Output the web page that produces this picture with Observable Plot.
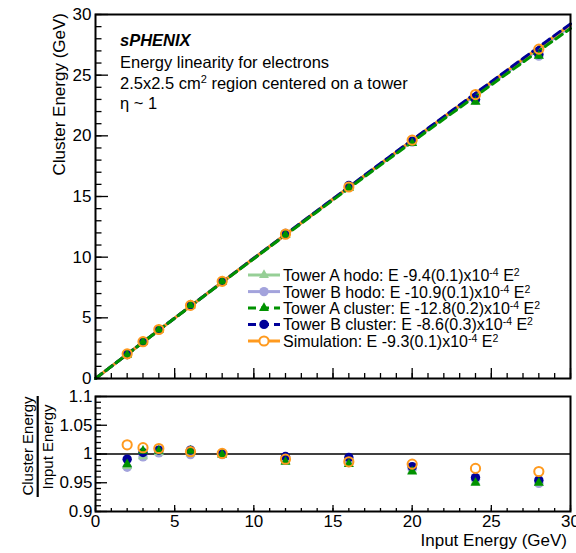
<!DOCTYPE html>
<html><head><meta charset="utf-8">
<script src="https://cdn.jsdelivr.net/npm/d3@7"></script>
<script src="https://cdn.jsdelivr.net/npm/@observablehq/plot@0.6"></script>
<style>
body{margin:0;background:#fff;font-family:"Liberation Sans",Arial,sans-serif;}
#wrap{position:relative;width:576px;height:553px;overflow:hidden;background:#fff}
#top{position:absolute;left:0;top:0;z-index:2}
#bot{position:absolute;left:0;top:385px;z-index:1}
#top svg{overflow:visible;background:transparent!important}
#ann{position:absolute;left:0;top:0;pointer-events:none;z-index:3}
</style></head><body>
<div id="wrap"><div id="top"></div><div id="bot"></div><svg id="ann" width="576" height="553"></svg></div>
<script>
// ---- data ----
const energies = [2, 3, 4, 6, 8, 12, 16, 20, 24, 28];
const ratioTowerAHodo    = [0.979, 0.996, 1.003, 1.001, 0.999, 0.988, 0.983, 0.971, 0.952, 0.950];
const ratioTowerBHodo    = [0.977, 0.995, 1.002, 0.999, 0.999, 0.990, 0.985, 0.974, 0.956, 0.949];
const ratioTowerACluster = [0.982, 1.0055, 1.0055, 1.0055, 0.999, 0.9865, 0.9825, 0.9695, 0.950, 0.950];
const ratioTowerBCluster = [0.991, 1.0026, 1.0068, 1.0068, 1.001, 0.9957, 0.994, 0.978, 0.959, 0.9545];
const ratioSimulation    = [1.016, 1.011, 1.0096, 1.004, 1.001, 0.991, 0.9864, 0.9824, 0.975, 0.9696];
const fitCoefE4 = [9.4, 10.9, 12.8, 8.6, 9.3];          // quadratic term, x10^-4
const fitErrE4  = ["0.1", "0.1", "0.2", "0.3", "0.1"];
const seriesLabels = ["Tower A hodo", "Tower B hodo", "Tower A cluster", "Tower B cluster", "Simulation"];
const xTicksMajor = [0, 5, 10, 15, 20, 25, 30];
const yTopTicks = [0, 5, 10, 15, 20, 25, 30];
const yBotTicks = [0.9, 0.95, 1, 1.05, 1.1];
const yBotTickLabels = ["0.9", "0.95", "1", "1.05", "1.1"];

// ---- styles ----
const styles = [
  {color: "#96cf96", symbol: "triangle", dash: null, open: false},
  {color: "#a3a3dc", symbol: "circle", dash: null, open: false},
  {color: "#009200", symbol: "triangle", dash: "8,5", open: false},
  {color: "#000099", symbol: "circle", dash: "8,5", open: false},
  {color: "#ff9a1e", symbol: "circle", dash: null, open: true}
];
const ratios = [ratioTowerAHodo, ratioTowerBHodo, ratioTowerACluster, ratioTowerBCluster, ratioSimulation];
const rows = ratios.map((r, i) => energies.map((E, j) => ({s: i, E, ratio: r[j], cl: E * r[j]})));
// fit curves E - a E^2 from the stated coefficients
const grid = d3.range(0, 30.001, 0.5);
const fits = fitCoefE4.map((a, i) => grid.map(x => ({s: i, x, y: x - a * 1e-4 * x * x})));

const FONT = "Liberation Sans, Arial, sans-serif";
const W = 576, L = 95, R = 6;
const innerW = W - L - R;
const TRI_R = 3.7, CIRC_R = 4.7, OPEN_R = 4.6;

function dotMarks(valueKey) {
  const order = [1, 0, 3, 2, 4];
  return order.map(i => {
    const st = styles[i];
    const opts = {x: "E", y: valueKey, symbol: st.symbol, r: st.symbol === "triangle" ? TRI_R : CIRC_R};
    if (st.open) { opts.fill = "none"; opts.stroke = st.color; opts.strokeWidth = 2; opts.r = OPEN_R; }
    else { opts.fill = st.color; opts.stroke = "none"; }
    return Plot.dot(rows[i], opts);
  });
}

// ---- top panel ----
const topH = 385, topMT = 14, topMB = 7;
const topInnerH = topH - topMT - topMB;
const lineOrder = [0, 1, 4, 3, 2];
const topPlot = Plot.plot({
  width: W, height: topH, marginLeft: L, marginRight: R, marginTop: topMT, marginBottom: topMB,
  style: {fontFamily: FONT, fontSize: "17px", background: "transparent", color: "black", overflow: "visible"},
  x: {domain: [0, 30], axis: null},
  y: {domain: [0, 30], axis: null},
  marks: [
    ...lineOrder.map(i => Plot.line(fits[i], {x: "x", y: "y", stroke: styles[i].color, strokeWidth: 3,
        strokeDasharray: styles[i].dash ?? undefined})),
    ...dotMarks("cl"),
    Plot.ruleY(d3.range(0, 31, 1), {stroke: "black", strokeWidth: 1.3, insetRight: innerW - 6.5}),
    Plot.ruleY(yTopTicks, {stroke: "black", strokeWidth: 1.3, insetRight: innerW - 13}),
    Plot.ruleX(d3.range(0, 31, 1), {stroke: "black", strokeWidth: 1.3, insetTop: topInnerH - 5}),
    Plot.ruleX(xTicksMajor, {stroke: "black", strokeWidth: 1.3, insetTop: topInnerH - 10}),
    Plot.text(yTopTicks, {x: 0, y: d => d, text: d => String(d), textAnchor: "end", dx: -4, fontSize: 17}),
    Plot.frame({stroke: "black", strokeWidth: 2})
  ]
});
document.getElementById("top").appendChild(topPlot);

// ---- bottom panel ----
const botH = 168, botMT = 11, botMB = 42;
const botInnerH = botH - botMT - botMB;
const botPlot = Plot.plot({
  width: W, height: botH, marginLeft: L, marginRight: R, marginTop: botMT, marginBottom: botMB,
  style: {fontFamily: FONT, fontSize: "17px", background: "white", color: "black"},
  x: {domain: [0, 30], axis: null},
  y: {domain: [0.9, 1.1], axis: null},
  marks: [
    Plot.ruleY([1], {stroke: "black", strokeWidth: 1.5}),
    ...dotMarks("ratio"),
    Plot.ruleY(d3.range(0, 21).map(k => 0.9 + k * 0.01), {stroke: "black", strokeWidth: 1.3, insetRight: innerW - 6}),
    Plot.ruleY(yBotTicks, {stroke: "black", strokeWidth: 1.3, insetRight: innerW - 12}),
    Plot.ruleX(d3.range(0, 31, 1), {stroke: "black", strokeWidth: 1.3, insetTop: botInnerH - 3}),
    Plot.ruleX(xTicksMajor, {stroke: "black", strokeWidth: 1.3, insetTop: botInnerH - 6}),
    Plot.text(yBotTicks, {x: 0, y: d => d, text: (d, i) => yBotTickLabels[i], textAnchor: "end", dx: -3, fontSize: 17}),
    Plot.text(xTicksMajor, {x: d => d, y: 0.9, text: d => String(d), dy: 10, fontSize: 17}),
    Plot.frame({stroke: "black", strokeWidth: 2})
  ]
});
document.getElementById("bot").appendChild(botPlot);

// ---- annotations ----
const ann = d3.select("#ann").attr("font-family", FONT);
// axis titles
ann.append("text").attr("transform", "translate(65,13) rotate(-90)").attr("text-anchor", "end")
  .attr("font-size", 17).text("Cluster Energy (GeV)");
ann.append("text").attr("x", 567).attr("y", 546).attr("text-anchor", "end")
  .attr("font-size", 17).text("Input Energy (GeV)");
ann.append("text").attr("transform", "translate(33,446) rotate(-90)").attr("text-anchor", "middle")
  .attr("font-size", 15).text("Cluster Energy");
ann.append("line").attr("x1", 37.7).attr("x2", 37.7).attr("y1", 396).attr("y2", 497)
  .attr("stroke", "black").attr("stroke-width", 2.2);
ann.append("text").attr("transform", "translate(53,447) rotate(-90)").attr("text-anchor", "middle")
  .attr("font-size", 15).text("Input Energy");

// header text
ann.append("text").attr("x", 120).attr("y", 46).attr("font-size", 16.5).attr("font-weight", "bold")
  .attr("font-style", "italic").text("sPHENIX");
ann.append("text").attr("x", 120).attr("y", 68).attr("font-size", 16.5).text("Energy linearity for electrons");
const t3 = ann.append("text").attr("x", 120).attr("y", 89).attr("font-size", 16.5);
t3.append("tspan").text("2.5x2.5 cm");
t3.append("tspan").attr("dy", -6).attr("font-size", 11).text("2");
t3.append("tspan").attr("dy", 6).text(" region centered on a tower");
ann.append("text").attr("x", 120).attr("y", 109).attr("font-size", 16.5).text("\u03b7 ~ 1");

// legend
const legY = [275, 291.6, 308, 324.4, 341];
styles.forEach((st, i) => {
  const y = legY[i];
  ann.append("line").attr("x1", 248).attr("x2", 280).attr("y1", y).attr("y2", y)
    .attr("stroke", st.color).attr("stroke-width", 3).attr("stroke-dasharray", st.dash);
  const r = st.open ? OPEN_R : (st.symbol === "triangle" ? TRI_R : CIRC_R);
  const sym = d3.symbol().type(st.symbol === "triangle" ? d3.symbolTriangle : d3.symbolCircle).size(Math.PI * r * r);
  const p = ann.append("path").attr("d", sym()).attr("transform", `translate(264,${y})`);
  if (st.open) p.attr("fill", "white").attr("stroke", st.color).attr("stroke-width", 2);
  else p.attr("fill", st.color);
  const t = ann.append("text").attr("x", 283).attr("y", y + 6).attr("font-size", 16);
  t.append("tspan").text(`${seriesLabels[i]}: E -${fitCoefE4[i]}(${fitErrE4[i]})x10`);
  t.append("tspan").attr("dy", -5).attr("font-size", 10.5).text("-4");
  t.append("tspan").attr("dy", 5).text(" E");
  t.append("tspan").attr("dy", -5).attr("font-size", 10.5).text("2");
});
</script></body></html>
